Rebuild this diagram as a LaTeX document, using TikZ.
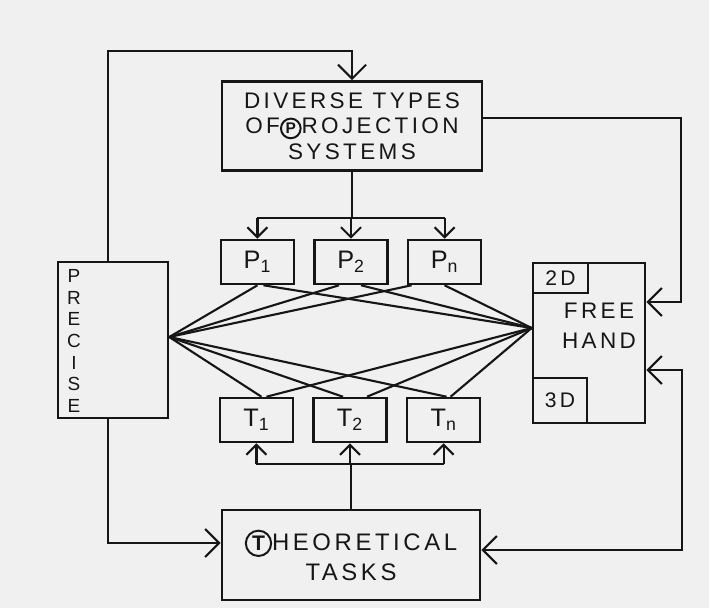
\documentclass[tikz,border=0pt]{standalone}
\usepackage{fontspec}
\setmainfont{Liberation Sans}
\newfontfamily\handfont[LetterSpace=15]{Liberation Sans}
\usetikzlibrary{positioning,arrows.meta,calc}
\definecolor{paper}{HTML}{F0F0F0}
\definecolor{ink}{HTML}{161616}
\newcommand{\ringletter}[2]{\tikz[baseline=(r.base)]\node[circle,draw=ink,line width=1.4pt,inner sep=0pt,minimum size=#1,font=\bfseries](r){#2};}

\begin{document}
\begin{tikzpicture}[x=0.025cm,y=-0.025cm,line width=1.5pt,color=ink,
  box/.style={draw=ink,line width=1.8pt,align=center,inner sep=2pt,
              font=\handfont\fontsize{16}{18}\selectfont},
  sub/.style={box,minimum width=1.825cm,minimum height=1.1cm,
              font=\handfont\fontsize{18}{18}\selectfont},
  corner/.style={box,inner sep=1pt,font=\handfont\fontsize{15}{15}\selectfont},
  lbl/.style={align=center,font=\fontsize{13.5}{15.4}\selectfont},
  a/.style={-{Straight Barb[length=3.5mm,width=7mm]}},
  aa/.style={{Straight Barb[length=3.5mm,width=7mm]}-{Straight Barb[length=3.5mm,width=7mm]}},
  as/.style={-{Straight Barb[length=2.5mm,width=5mm]}}]
\fill[paper] (0,0) rectangle (709,608);
\node[box,minimum width=6.5cm,minimum height=2.225cm] (diverse) at (352,126)
  {DIVERSE TYPES\\OF\ringletter{14pt}{\fontsize{11}{11}\selectfont P}ROJECTION\\SYSTEMS};
\node[sub] (P2) at (351,262) {P\textsubscript{2}};
\node[sub,left=0.45cm of P2] (P1) {P\textsubscript{1}};
\node[sub,right=0.45cm of P2] (Pn) {P\textsubscript{n}};
\node[sub] (T2) at (350,420) {T\textsubscript{2}};
\node[sub,left=0.45cm of T2] (T1) {T\textsubscript{1}};
\node[sub,right=0.45cm of T2] (Tn) {T\textsubscript{n}};
\node[box,minimum width=2.75cm,minimum height=3.9cm] (precise) at (113,340) {};
\node[lbl] (preciseText) at (74,341) {P\\R\\E\\C\\I\\S\\E};
\node[box,minimum width=2.8cm,minimum height=4cm] (free) at (589,343) {};
\node[corner,anchor=north west,minimum width=1.375cm,minimum height=0.75cm] (twoD) at (free.north west) {2D};
\node[corner,anchor=south west,minimum width=1.35cm,minimum height=1.125cm] (threeD) at (free.south west) {3D};
\node[lbl,font=\handfont\fontsize{16}{21}\selectfont] (freeText) at (599,326) {FREE\\HAND};
\node[box,minimum width=6.45cm,minimum height=2.25cm,font=\handfont\fontsize{17}{21}\selectfont] (theo) at (351,555)
  {\ringletter{18pt}{\fontsize{15}{15}\selectfont T}HEORETICAL\\TASKS};
\coordinate (hubL) at ($(precise.east)+(0,-3)$);
\coordinate (hubR) at ($(free.west)+(0,-15)$);
\draw[a] ($(precise.north)+(-5,0)$) -- ++(0,-210) -| (diverse.north);
\draw[a] ($(precise.south)+(-5,0)$) |- ($(theo.west)+(0,-12)$);
\draw[a] ($(diverse.east)+(0,-8)$) -- ++(198,0) |- ($(free.east)+(0,-41)$);
\draw[aa] ($(free.east)+(0,27)$) -- ++(36,0) |- ($(theo.east)+(0,-5)$);
\draw (diverse.south) -- ++(0,46) coordinate (pbus);
\draw (P1.north |- pbus) -- (Pn.north |- pbus);
\foreach \p in {P1,P2,Pn}
  \draw[as] (\p.north |- pbus) -- (\p.north);
\draw (theo.north) -- ++(0,-45) coordinate (tbus);
\draw (T1.south |- tbus) -- (Tn.south |- tbus);
\foreach \t in {T1,T2,Tn}
  \draw[as] (\t.south |- tbus) -- (\t.south);
\foreach \n/\l/\r in {P1/0/6,P2/-12/10,Pn/-33/0} {
  \draw (hubL) -- ($(\n.south)+(\l,0)$);
  \draw (hubR) -- ($(\n.south)+(\r,0)$);
}
\foreach \n/\l/\r in {T1/5/10,T2/-7/17,Tn/3/7} {
  \draw (hubL) -- ($(\n.north)+(\l,0)$);
  \draw (hubR) -- ($(\n.north)+(\r,0)$);
}
\end{tikzpicture}
\end{document}
